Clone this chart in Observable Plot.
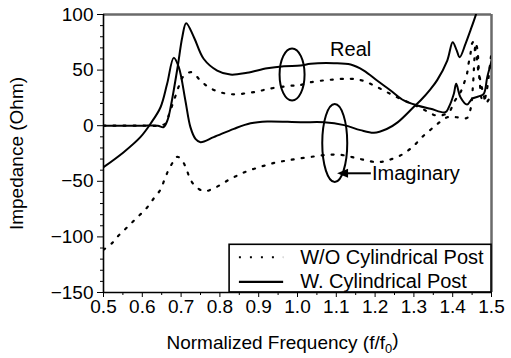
<!DOCTYPE html>
<html>
<head>
<meta charset="utf-8">
<script src="https://cdn.jsdelivr.net/npm/d3@7"></script>
<script src="https://cdn.jsdelivr.net/npm/@observablehq/plot@0.6"></script>
<style>
  body { margin: 0; background: #fff; }
  #chart svg { display: block; }
</style>
</head>
<body>
<div id="chart"></div>
<script>
// Axis domains and ticks
const xDomain = [0.5, 1.5];
const yDomain = [-150, 100];
const xTicks = [0.5, 0.6, 0.7, 0.8, 0.9, 1.0, 1.1, 1.2, 1.3, 1.4, 1.5];
const xMinorTicks = [0.55, 0.65, 0.75, 0.85, 0.95, 1.05, 1.15, 1.25, 1.35, 1.45];
const yTicks = [-150, -100, -50, 0, 50, 100];
const yMinorTicks = [-140, -130, -120, -110, -90, -80, -70, -60, -40, -30, -20, -10, 10, 20, 30, 40, 60, 70, 80, 90];

// With cylindrical post: real part
const freqRealWith = [0.5, 0.55, 0.6, 0.64, 0.655, 0.665, 0.673, 0.691, 0.703, 0.713, 0.733, 0.758, 0.793, 0.827, 0.870, 0.922, 0.965, 1.008, 1.034, 1.094, 1.137, 1.171, 1.205, 1.240, 1.274, 1.309, 1.343, 1.381, 1.390, 1.403, 1.409, 1.420, 1.437, 1.450, 1.467, 1.480, 1.489, 1.5];
const realWith = [0, 0, 0, 0, -1.2, 5, 16.6, 52.6, 79.6, 92.2, 79.6, 60.2, 49.6, 46, 47.6, 51.7, 53.5, 54.1, 55.7, 56.2, 55, 49.6, 40.6, 31.7, 22.7, 18.2, 15.2, 12.1, 16.6, 28.7, 37.7, 25.6, 19, 24.2, 26.3, 28.7, 43.6, 58];

// With cylindrical post: imaginary part
const freqImagWith = [0.5, 0.552, 0.595, 0.621, 0.647, 0.664, 0.681, 0.694, 0.711, 0.724, 0.737, 0.750, 0.784, 0.836, 0.879, 0.922, 1.008, 1.068, 1.12, 1.162, 1.197, 1.23, 1.258, 1.30, 1.317, 1.343, 1.360, 1.386, 1.400, 1.410, 1.418, 1.433, 1.446, 1.459, 1.47];
const imagWith = [-37.3, -23.8, -10.3, 1.7, 16.6, 37.7, 61, 52.6, 22.7, -1.3, -11.8, -14.8, -10.3, -2.8, 2.2, 3.8, 3.1, 3.1, 0.5, -4, -6.4, -3, 3, 17, 22.7, 33, 41, 58.6, 75, 68, 61.6, 73.6, 86, 99, 112];

// Without cylindrical post: real part
const freqRealWithout = [0.5, 0.55, 0.6, 0.64, 0.66, 0.668, 0.677, 0.686, 0.694, 0.703, 0.715, 0.728, 0.75, 0.771, 0.793, 0.819, 0.845, 0.875, 0.900, 0.926, 0.982, 1.003, 1.034, 1.085, 1.137, 1.167, 1.197, 1.231, 1.265, 1.30, 1.334, 1.36, 1.39, 1.403, 1.42, 1.429, 1.437, 1.441, 1.446, 1.45, 1.455, 1.459, 1.463, 1.467, 1.472, 1.476, 1.48, 1.485, 1.49, 1.497, 1.5];
const realWithout = [0, 0, 0, 0, 2, 9.2, 18.2, 27.2, 35.3, 43, 47, 48, 40.6, 34.6, 31, 28.7, 28.3, 29.6, 31, 33.2, 35.9, 36.2, 39.1, 41.3, 42.2, 40.6, 36.2, 30.1, 24.2, 18.8, 13, 9, 12, 21, 30, 38, 47, 56, 65, 74, 76, 68, 58, 47, 40, 33, 28, 20, 22, 26, 28];

// Without cylindrical post: imaginary part
const freqImagWithout = [0.5, 0.522, 0.539, 0.557, 0.576, 0.594, 0.613, 0.630, 0.647, 0.657, 0.667, 0.679, 0.69, 0.70, 0.713, 0.722, 0.735, 0.759, 0.782, 0.806, 0.827, 0.849, 0.870, 0.896, 0.922, 0.948, 0.973, 0.999, 1.042, 1.077, 1.111, 1.141, 1.171, 1.205, 1.231, 1.265, 1.296, 1.321, 1.351, 1.386, 1.41, 1.437, 1.446, 1.452, 1.456, 1.459, 1.463, 1.467, 1.47, 1.475, 1.48, 1.487, 1.493, 1.497, 1.5];
const imagWithout = [-111.6, -105.6, -98.7, -92.7, -86.2, -80.1, -73.3, -65.2, -57.4, -48.7, -40.3, -32.8, -28, -30, -38.2, -46.9, -53.8, -58.9, -56.7, -52.2, -47.8, -44.2, -40.9, -37.9, -35.2, -32.8, -31.3, -29.8, -27.7, -26.2, -26.2, -28.3, -30.7, -32.8, -31.3, -26.8, -19.3, -10.3, -1.3, 7.6, 7.6, 7, 15, 35, 60, 74, 70, 52, 38, 24, 22, 30, 45, 58, 65];

// Legend entries and annotations
const legendLabels = ["W/O Cylindrical Post", "W. Cylindrical Post"];
const legendBox = [{x1: 0.825, x2: 1.5, y1: -150, y2: -107.1}];
const legendSwatches = [
  {x1: 0.849, x2: 0.963, y: -118.3, label: legendLabels[0], tx: 1.007, dotted: true},
  {x1: 0.849, x2: 0.963, y: -140.4, label: legendLabels[1], tx: 1.007, dotted: false}
];
const ellipses = [
  {f: 0.986, v: 46, rx: 12.5, ry: 26},
  {f: 1.096, v: -15.6, rx: 12.5, ry: 39}
];
const realLabel = [{f: 1.137, v: 68.5, text: "Real"}];
const imagLabel = [{f: 1.192, v: -43.5, text: "Imaginary"}];
const arrow = [{f1: 1.189, f2: 1.11, fTip: 1.102, v: -42.8}];

const series = (fs, vs, key) => fs.map((f, i) => ({f, v: vs[i], key}));
const solidRows = [...series(freqRealWith, realWith, "realWith"), ...series(freqImagWith, imagWith, "imagWith")];
const dottedRows = [...series(freqRealWithout, realWithout, "realWithout"), ...series(freqImagWithout, imagWithout, "imagWithout")];

// Elliptical outline drawn as a custom dot symbol
function ellipseSymbol(rx, ry) {
  const k = 0.5523;
  return {draw(p) {
    p.moveTo(rx, 0);
    p.bezierCurveTo(rx, ry * k, rx * k, ry, 0, ry);
    p.bezierCurveTo(-rx * k, ry, -rx, ry * k, -rx, 0);
    p.bezierCurveTo(-rx, -ry * k, -rx * k, -ry, 0, -ry);
    p.bezierCurveTo(rx * k, -ry, rx, -ry * k, rx, 0);
    p.closePath();
  }};
}
// Filled arrowhead pointing left, tip at the origin
const arrowHead = {draw(p) { p.moveTo(0, 0); p.lineTo(11, -4.5); p.lineTo(11, 4.5); p.closePath(); }};

const font = "'Liberation Sans', Arial, Helvetica, sans-serif";

const chart = Plot.plot({
  width: 511,
  height: 358,
  marginLeft: 103,
  marginRight: 20,
  marginTop: 14,
  marginBottom: 66,
  style: {fontFamily: font, fontSize: "19px", background: "#fff", color: "#000"},
  x: {domain: xDomain},
  y: {domain: yDomain},
  marks: [
    // gray top and right frame edges
    Plot.ruleY([yDomain[1]], {stroke: "#6a6a6a", strokeWidth: 2.5}),
    Plot.ruleX([xDomain[1]], {stroke: "#6a6a6a", strokeWidth: 2.5}),

    // curves
    Plot.line(dottedRows, {x: "f", y: "v", z: "key", curve: "catmull-rom", stroke: "#000", strokeWidth: 2.2, strokeDasharray: "2 8", clip: true}),
    Plot.line(solidRows, {x: "f", y: "v", z: "key", curve: "catmull-rom", stroke: "#000", strokeWidth: 2, clip: true}),

    // annotations
    ...ellipses.map(e => Plot.dot([e], {x: "f", y: "v", symbol: ellipseSymbol(e.rx, e.ry), stroke: "#000", fill: "none", strokeWidth: 2})),
    Plot.link(arrow, {x1: "f1", x2: "f2", y1: "v", y2: "v", stroke: "#000", strokeWidth: 2}),
    Plot.dot(arrow, {x: "fTip", y: "v", symbol: arrowHead, fill: "#000", stroke: "none"}),
    Plot.text(realLabel, {x: "f", y: "v", text: "text", textAnchor: "middle", fontSize: 20, fill: "#000"}),
    Plot.text(imagLabel, {x: "f", y: "v", text: "text", textAnchor: "start", fontSize: 20, fill: "#000"}),

    // legend
    Plot.rect(legendBox, {x1: "x1", x2: "x2", y1: "y1", y2: "y2", fill: "#fff", stroke: "#000", strokeWidth: 1.6}),
    Plot.link(legendSwatches.filter(d => d.dotted), {x1: "x1", x2: "x2", y1: "y", y2: "y", stroke: "#000", strokeWidth: 2.2, strokeDasharray: "2 9"}),
    Plot.link(legendSwatches.filter(d => !d.dotted), {x1: "x1", x2: "x2", y1: "y", y2: "y", stroke: "#000", strokeWidth: 2.4}),
    Plot.text(legendSwatches, {x: "tx", y: "y", text: "label", textAnchor: "start", fontSize: 20, fill: "#000"}),

    // axes
    Plot.axisX(xMinorTicks, {tickSize: 3, tickFormat: () => "", label: null}),
    Plot.axisX(xTicks, {tickSize: 5, tickPadding: 2, tickFormat: d3.format(".1f"), label: "Normalized Frequency (f/f0)", labelAnchor: "center", labelArrow: "none", labelOffset: 56}),
    Plot.axisY(yMinorTicks, {tickSize: 3, tickFormat: () => "", label: null}),
    Plot.axisY(yTicks, {tickSize: 6, tickPadding: 4, label: "Impedance (Ohm)", labelAnchor: "center", labelArrow: "none", labelOffset: 94}),
    Plot.ruleX([xDomain[0]], {stroke: "#000", strokeWidth: 1.6}),
    Plot.ruleY([yDomain[0]], {stroke: "#000", strokeWidth: 1.6})
  ]
});

document.getElementById("chart").append(chart);

// Subscript zero in the x-axis title, nudged left of the frame centre
d3.select(chart).selectAll("text").each(function() {
  const t = d3.select(this);
  if (t.text() === "Normalized Frequency (f/f0)") {
    t.text("");
    t.attr("transform", (t.attr("transform") || "") + " translate(-15,0)");
    t.append("tspan").text("Normalized Frequency (f/f");
    t.append("tspan").attr("dy", "0.35em").attr("font-size", "13px").text("0");
    t.append("tspan").attr("dy", "-0.35em").text(")");
  }
});
</script>
</body>
</html>
